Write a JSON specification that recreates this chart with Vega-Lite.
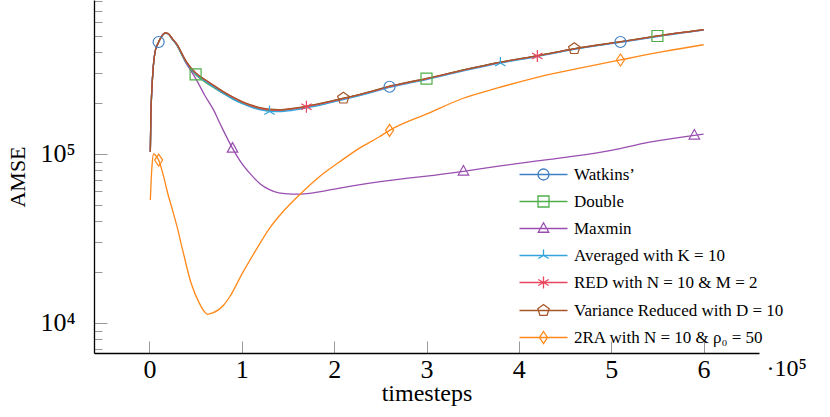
{
  "$schema": "https://vega.github.io/schema/vega-lite/v6.json",
  "width": 665,
  "height": 353,
  "autosize": "none",
  "padding": {"left": 94, "top": 0, "right": 71, "bottom": 64},
  "background": "white",
  "config": {"view": {"stroke": null}, "font": "Liberation Serif"},
  "params": [
    {"name": "lnames", "value": ["Watkins’", "Double", "Maxmin", "Averaged with K = 10", "RED with N = 10 & M = 2", "Variance Reduced with D = 10", "2RA with N = 10 & ρ₀ = 50"]},
    {"name": "lsh", "value": [
      "M-4.8,0H4.8M1.1,0A1.1,1.1 0 1,1 -1.1,0A1.1,1.1 0 1,1 1.1,0Z",
      "M-4.8,0H4.8M-1.1,-1.1H1.1V1.1H-1.1Z",
      "M-4.8,0H4.8M0,-1.15L1.05,0.75H-1.05Z",
      "M-4.8,0H4.8M0,0V-1.2M0,0L1.04,0.6M0,0L-1.04,0.6",
      "M-4.8,0H4.8M0,-1.2V1.2M-1.04,-0.6L1.04,0.6M-1.04,0.6L1.04,-0.6",
      "M-4.8,0H4.8M0,-1.2L1.141,-0.371L0.705,0.971L-0.705,0.971L-1.141,-0.371Z",
      "M-4.8,0H4.8M0,-1.2L0.8,0L0,1.2L-0.8,0Z"
    ]}
  ],
  "datasets": {
    "lines": [
      {"series": "Watkins’", "t": 1000, "amse": 103000},
      {"series": "Watkins’", "t": 1500, "amse": 160000},
      {"series": "Watkins’", "t": 2000, "amse": 200000},
      {"series": "Watkins’", "t": 3000, "amse": 262000},
      {"series": "Watkins’", "t": 4000, "amse": 320000},
      {"series": "Watkins’", "t": 6000, "amse": 400000},
      {"series": "Watkins’", "t": 8000, "amse": 435000},
      {"series": "Watkins’", "t": 10000, "amse": 460000},
      {"series": "Watkins’", "t": 13000, "amse": 495000},
      {"series": "Watkins’", "t": 17000, "amse": 519000},
      {"series": "Watkins’", "t": 20000, "amse": 516000},
      {"series": "Watkins’", "t": 25000, "amse": 477000},
      {"series": "Watkins’", "t": 30000, "amse": 441000},
      {"series": "Watkins’", "t": 35000, "amse": 391000},
      {"series": "Watkins’", "t": 40000, "amse": 348000},
      {"series": "Watkins’", "t": 50000, "amse": 299000},
      {"series": "Watkins’", "t": 60000, "amse": 272000},
      {"series": "Watkins’", "t": 70000, "amse": 250000},
      {"series": "Watkins’", "t": 80000, "amse": 230000},
      {"series": "Watkins’", "t": 90000, "amse": 214000},
      {"series": "Watkins’", "t": 100000, "amse": 201000},
      {"series": "Watkins’", "t": 110000, "amse": 192000},
      {"series": "Watkins’", "t": 120000, "amse": 185000},
      {"series": "Watkins’", "t": 130000, "amse": 181000},
      {"series": "Watkins’", "t": 140000, "amse": 180500},
      {"series": "Watkins’", "t": 150000, "amse": 182500},
      {"series": "Watkins’", "t": 170000, "amse": 190000},
      {"series": "Watkins’", "t": 190000, "amse": 200000},
      {"series": "Watkins’", "t": 210000, "amse": 212000},
      {"series": "Watkins’", "t": 240000, "amse": 233000},
      {"series": "Watkins’", "t": 260000, "amse": 250000},
      {"series": "Watkins’", "t": 280000, "amse": 264000},
      {"series": "Watkins’", "t": 300000, "amse": 278000},
      {"series": "Watkins’", "t": 340000, "amse": 313000},
      {"series": "Watkins’", "t": 380000, "amse": 348000},
      {"series": "Watkins’", "t": 420000, "amse": 380000},
      {"series": "Watkins’", "t": 460000, "amse": 418000},
      {"series": "Watkins’", "t": 510000, "amse": 460000},
      {"series": "Watkins’", "t": 550000, "amse": 498000},
      {"series": "Watkins’", "t": 600000, "amse": 543000},

      {"series": "Double", "t": 1000, "amse": 103000},
      {"series": "Double", "t": 1500, "amse": 160000},
      {"series": "Double", "t": 2000, "amse": 200000},
      {"series": "Double", "t": 3000, "amse": 262000},
      {"series": "Double", "t": 4000, "amse": 320000},
      {"series": "Double", "t": 6000, "amse": 400000},
      {"series": "Double", "t": 8000, "amse": 435000},
      {"series": "Double", "t": 10000, "amse": 460000},
      {"series": "Double", "t": 13000, "amse": 495000},
      {"series": "Double", "t": 17000, "amse": 519000},
      {"series": "Double", "t": 20000, "amse": 515000},
      {"series": "Double", "t": 25000, "amse": 474000},
      {"series": "Double", "t": 30000, "amse": 436000},
      {"series": "Double", "t": 35000, "amse": 386000},
      {"series": "Double", "t": 40000, "amse": 343000},
      {"series": "Double", "t": 50000, "amse": 294000},
      {"series": "Double", "t": 60000, "amse": 267000},
      {"series": "Double", "t": 70000, "amse": 246000},
      {"series": "Double", "t": 80000, "amse": 228000},
      {"series": "Double", "t": 90000, "amse": 212000},
      {"series": "Double", "t": 100000, "amse": 200000},
      {"series": "Double", "t": 110000, "amse": 191000},
      {"series": "Double", "t": 120000, "amse": 184500},
      {"series": "Double", "t": 130000, "amse": 181000},
      {"series": "Double", "t": 140000, "amse": 181000},
      {"series": "Double", "t": 150000, "amse": 183500},
      {"series": "Double", "t": 170000, "amse": 190500},
      {"series": "Double", "t": 190000, "amse": 201000},
      {"series": "Double", "t": 210000, "amse": 213000},
      {"series": "Double", "t": 240000, "amse": 234000},
      {"series": "Double", "t": 260000, "amse": 251000},
      {"series": "Double", "t": 280000, "amse": 265000},
      {"series": "Double", "t": 300000, "amse": 279000},
      {"series": "Double", "t": 340000, "amse": 314000},
      {"series": "Double", "t": 380000, "amse": 349000},
      {"series": "Double", "t": 420000, "amse": 381000},
      {"series": "Double", "t": 460000, "amse": 419000},
      {"series": "Double", "t": 510000, "amse": 461000},
      {"series": "Double", "t": 550000, "amse": 499000},
      {"series": "Double", "t": 600000, "amse": 544000},

      {"series": "Maxmin", "t": 1000, "amse": 103000},
      {"series": "Maxmin", "t": 1500, "amse": 160000},
      {"series": "Maxmin", "t": 2000, "amse": 200000},
      {"series": "Maxmin", "t": 3000, "amse": 262000},
      {"series": "Maxmin", "t": 4000, "amse": 320000},
      {"series": "Maxmin", "t": 6000, "amse": 400000},
      {"series": "Maxmin", "t": 8000, "amse": 435000},
      {"series": "Maxmin", "t": 10000, "amse": 460000},
      {"series": "Maxmin", "t": 13000, "amse": 495000},
      {"series": "Maxmin", "t": 17000, "amse": 519000},
      {"series": "Maxmin", "t": 20000, "amse": 516000},
      {"series": "Maxmin", "t": 25000, "amse": 477000},
      {"series": "Maxmin", "t": 30000, "amse": 440000},
      {"series": "Maxmin", "t": 35000, "amse": 390000},
      {"series": "Maxmin", "t": 40000, "amse": 343000},
      {"series": "Maxmin", "t": 45000, "amse": 310000},
      {"series": "Maxmin", "t": 50000, "amse": 280000},
      {"series": "Maxmin", "t": 60000, "amse": 222000},
      {"series": "Maxmin", "t": 70000, "amse": 180000},
      {"series": "Maxmin", "t": 76000, "amse": 153000},
      {"series": "Maxmin", "t": 80000, "amse": 138000},
      {"series": "Maxmin", "t": 90000, "amse": 108000},
      {"series": "Maxmin", "t": 100000, "amse": 88000},
      {"series": "Maxmin", "t": 110000, "amse": 75500},
      {"series": "Maxmin", "t": 120000, "amse": 66500},
      {"series": "Maxmin", "t": 130000, "amse": 61500},
      {"series": "Maxmin", "t": 140000, "amse": 58800},
      {"series": "Maxmin", "t": 150000, "amse": 58000},
      {"series": "Maxmin", "t": 160000, "amse": 57800},
      {"series": "Maxmin", "t": 170000, "amse": 58200},
      {"series": "Maxmin", "t": 180000, "amse": 59200},
      {"series": "Maxmin", "t": 200000, "amse": 62000},
      {"series": "Maxmin", "t": 220000, "amse": 64800},
      {"series": "Maxmin", "t": 250000, "amse": 68600},
      {"series": "Maxmin", "t": 280000, "amse": 72000},
      {"series": "Maxmin", "t": 300000, "amse": 74000},
      {"series": "Maxmin", "t": 340000, "amse": 79000},
      {"series": "Maxmin", "t": 380000, "amse": 85000},
      {"series": "Maxmin", "t": 420000, "amse": 91000},
      {"series": "Maxmin", "t": 460000, "amse": 97000},
      {"series": "Maxmin", "t": 500000, "amse": 105000},
      {"series": "Maxmin", "t": 540000, "amse": 117000},
      {"series": "Maxmin", "t": 590000, "amse": 129000},
      {"series": "Maxmin", "t": 600000, "amse": 131000},

      {"series": "Averaged with K = 10", "t": 1000, "amse": 103000},
      {"series": "Averaged with K = 10", "t": 1500, "amse": 160000},
      {"series": "Averaged with K = 10", "t": 2000, "amse": 200000},
      {"series": "Averaged with K = 10", "t": 3000, "amse": 262000},
      {"series": "Averaged with K = 10", "t": 4000, "amse": 320000},
      {"series": "Averaged with K = 10", "t": 6000, "amse": 400000},
      {"series": "Averaged with K = 10", "t": 8000, "amse": 435000},
      {"series": "Averaged with K = 10", "t": 10000, "amse": 460000},
      {"series": "Averaged with K = 10", "t": 13000, "amse": 495000},
      {"series": "Averaged with K = 10", "t": 17000, "amse": 518000},
      {"series": "Averaged with K = 10", "t": 20000, "amse": 515000},
      {"series": "Averaged with K = 10", "t": 25000, "amse": 476000},
      {"series": "Averaged with K = 10", "t": 30000, "amse": 440000},
      {"series": "Averaged with K = 10", "t": 35000, "amse": 390000},
      {"series": "Averaged with K = 10", "t": 40000, "amse": 347000},
      {"series": "Averaged with K = 10", "t": 50000, "amse": 298000},
      {"series": "Averaged with K = 10", "t": 60000, "amse": 270000},
      {"series": "Averaged with K = 10", "t": 70000, "amse": 248000},
      {"series": "Averaged with K = 10", "t": 80000, "amse": 228000},
      {"series": "Averaged with K = 10", "t": 90000, "amse": 212000},
      {"series": "Averaged with K = 10", "t": 100000, "amse": 199000},
      {"series": "Averaged with K = 10", "t": 110000, "amse": 189500},
      {"series": "Averaged with K = 10", "t": 120000, "amse": 182500},
      {"series": "Averaged with K = 10", "t": 130000, "amse": 178500},
      {"series": "Averaged with K = 10", "t": 140000, "amse": 178000},
      {"series": "Averaged with K = 10", "t": 150000, "amse": 180000},
      {"series": "Averaged with K = 10", "t": 170000, "amse": 187500},
      {"series": "Averaged with K = 10", "t": 190000, "amse": 197500},
      {"series": "Averaged with K = 10", "t": 210000, "amse": 209500},
      {"series": "Averaged with K = 10", "t": 240000, "amse": 230500},
      {"series": "Averaged with K = 10", "t": 260000, "amse": 247500},
      {"series": "Averaged with K = 10", "t": 280000, "amse": 261500},
      {"series": "Averaged with K = 10", "t": 300000, "amse": 275500},
      {"series": "Averaged with K = 10", "t": 340000, "amse": 310500},
      {"series": "Averaged with K = 10", "t": 380000, "amse": 345500},
      {"series": "Averaged with K = 10", "t": 420000, "amse": 377500},
      {"series": "Averaged with K = 10", "t": 460000, "amse": 415500},
      {"series": "Averaged with K = 10", "t": 510000, "amse": 457500},
      {"series": "Averaged with K = 10", "t": 550000, "amse": 495500},
      {"series": "Averaged with K = 10", "t": 600000, "amse": 540500},

      {"series": "RED with N = 10 & M = 2", "t": 1000, "amse": 103000},
      {"series": "RED with N = 10 & M = 2", "t": 1500, "amse": 160000},
      {"series": "RED with N = 10 & M = 2", "t": 2000, "amse": 200000},
      {"series": "RED with N = 10 & M = 2", "t": 3000, "amse": 262000},
      {"series": "RED with N = 10 & M = 2", "t": 4000, "amse": 320000},
      {"series": "RED with N = 10 & M = 2", "t": 6000, "amse": 400000},
      {"series": "RED with N = 10 & M = 2", "t": 8000, "amse": 435000},
      {"series": "RED with N = 10 & M = 2", "t": 10000, "amse": 460000},
      {"series": "RED with N = 10 & M = 2", "t": 13000, "amse": 495000},
      {"series": "RED with N = 10 & M = 2", "t": 17000, "amse": 520000},
      {"series": "RED with N = 10 & M = 2", "t": 20000, "amse": 517000},
      {"series": "RED with N = 10 & M = 2", "t": 25000, "amse": 479000},
      {"series": "RED with N = 10 & M = 2", "t": 30000, "amse": 444000},
      {"series": "RED with N = 10 & M = 2", "t": 35000, "amse": 394000},
      {"series": "RED with N = 10 & M = 2", "t": 40000, "amse": 351000},
      {"series": "RED with N = 10 & M = 2", "t": 50000, "amse": 302000},
      {"series": "RED with N = 10 & M = 2", "t": 60000, "amse": 275000},
      {"series": "RED with N = 10 & M = 2", "t": 70000, "amse": 253000},
      {"series": "RED with N = 10 & M = 2", "t": 80000, "amse": 233000},
      {"series": "RED with N = 10 & M = 2", "t": 90000, "amse": 217000},
      {"series": "RED with N = 10 & M = 2", "t": 100000, "amse": 203500},
      {"series": "RED with N = 10 & M = 2", "t": 110000, "amse": 193500},
      {"series": "RED with N = 10 & M = 2", "t": 120000, "amse": 186500},
      {"series": "RED with N = 10 & M = 2", "t": 130000, "amse": 182500},
      {"series": "RED with N = 10 & M = 2", "t": 140000, "amse": 181500},
      {"series": "RED with N = 10 & M = 2", "t": 150000, "amse": 183500},
      {"series": "RED with N = 10 & M = 2", "t": 170000, "amse": 190500},
      {"series": "RED with N = 10 & M = 2", "t": 190000, "amse": 200500},
      {"series": "RED with N = 10 & M = 2", "t": 210000, "amse": 212500},
      {"series": "RED with N = 10 & M = 2", "t": 240000, "amse": 233500},
      {"series": "RED with N = 10 & M = 2", "t": 260000, "amse": 250500},
      {"series": "RED with N = 10 & M = 2", "t": 280000, "amse": 264500},
      {"series": "RED with N = 10 & M = 2", "t": 300000, "amse": 278500},
      {"series": "RED with N = 10 & M = 2", "t": 340000, "amse": 313500},
      {"series": "RED with N = 10 & M = 2", "t": 380000, "amse": 348500},
      {"series": "RED with N = 10 & M = 2", "t": 420000, "amse": 380500},
      {"series": "RED with N = 10 & M = 2", "t": 460000, "amse": 418500},
      {"series": "RED with N = 10 & M = 2", "t": 510000, "amse": 460500},
      {"series": "RED with N = 10 & M = 2", "t": 550000, "amse": 498500},
      {"series": "RED with N = 10 & M = 2", "t": 600000, "amse": 543500},

      {"series": "Variance Reduced with D = 10", "t": 1000, "amse": 103000},
      {"series": "Variance Reduced with D = 10", "t": 1500, "amse": 160000},
      {"series": "Variance Reduced with D = 10", "t": 2000, "amse": 200000},
      {"series": "Variance Reduced with D = 10", "t": 3000, "amse": 262000},
      {"series": "Variance Reduced with D = 10", "t": 4000, "amse": 320000},
      {"series": "Variance Reduced with D = 10", "t": 6000, "amse": 400000},
      {"series": "Variance Reduced with D = 10", "t": 8000, "amse": 435000},
      {"series": "Variance Reduced with D = 10", "t": 10000, "amse": 460000},
      {"series": "Variance Reduced with D = 10", "t": 13000, "amse": 495000},
      {"series": "Variance Reduced with D = 10", "t": 17000, "amse": 520000},
      {"series": "Variance Reduced with D = 10", "t": 20000, "amse": 518000},
      {"series": "Variance Reduced with D = 10", "t": 25000, "amse": 480000},
      {"series": "Variance Reduced with D = 10", "t": 30000, "amse": 445000},
      {"series": "Variance Reduced with D = 10", "t": 35000, "amse": 395000},
      {"series": "Variance Reduced with D = 10", "t": 40000, "amse": 352000},
      {"series": "Variance Reduced with D = 10", "t": 50000, "amse": 303000},
      {"series": "Variance Reduced with D = 10", "t": 60000, "amse": 276000},
      {"series": "Variance Reduced with D = 10", "t": 70000, "amse": 254000},
      {"series": "Variance Reduced with D = 10", "t": 80000, "amse": 234000},
      {"series": "Variance Reduced with D = 10", "t": 90000, "amse": 218000},
      {"series": "Variance Reduced with D = 10", "t": 100000, "amse": 205000},
      {"series": "Variance Reduced with D = 10", "t": 110000, "amse": 195000},
      {"series": "Variance Reduced with D = 10", "t": 120000, "amse": 188000},
      {"series": "Variance Reduced with D = 10", "t": 130000, "amse": 184000},
      {"series": "Variance Reduced with D = 10", "t": 140000, "amse": 183000},
      {"series": "Variance Reduced with D = 10", "t": 150000, "amse": 185000},
      {"series": "Variance Reduced with D = 10", "t": 170000, "amse": 192000},
      {"series": "Variance Reduced with D = 10", "t": 190000, "amse": 202000},
      {"series": "Variance Reduced with D = 10", "t": 210000, "amse": 214000},
      {"series": "Variance Reduced with D = 10", "t": 240000, "amse": 235000},
      {"series": "Variance Reduced with D = 10", "t": 260000, "amse": 252000},
      {"series": "Variance Reduced with D = 10", "t": 280000, "amse": 266000},
      {"series": "Variance Reduced with D = 10", "t": 300000, "amse": 280000},
      {"series": "Variance Reduced with D = 10", "t": 340000, "amse": 315000},
      {"series": "Variance Reduced with D = 10", "t": 380000, "amse": 350000},
      {"series": "Variance Reduced with D = 10", "t": 420000, "amse": 382000},
      {"series": "Variance Reduced with D = 10", "t": 460000, "amse": 420000},
      {"series": "Variance Reduced with D = 10", "t": 510000, "amse": 462000},
      {"series": "Variance Reduced with D = 10", "t": 550000, "amse": 500000},
      {"series": "Variance Reduced with D = 10", "t": 600000, "amse": 545000},

      {"series": "2RA with N = 10 & ρ₀ = 50", "t": 1000, "amse": 53400},
      {"series": "2RA with N = 10 & ρ₀ = 50", "t": 2000, "amse": 72000},
      {"series": "2RA with N = 10 & ρ₀ = 50", "t": 3000, "amse": 88000},
      {"series": "2RA with N = 10 & ρ₀ = 50", "t": 4500, "amse": 100000},
      {"series": "2RA with N = 10 & ρ₀ = 50", "t": 6000, "amse": 99000},
      {"series": "2RA with N = 10 & ρ₀ = 50", "t": 8000, "amse": 96000},
      {"series": "2RA with N = 10 & ρ₀ = 50", "t": 10000, "amse": 92000},
      {"series": "2RA with N = 10 & ρ₀ = 50", "t": 15000, "amse": 75000},
      {"series": "2RA with N = 10 & ρ₀ = 50", "t": 20000, "amse": 58000},
      {"series": "2RA with N = 10 & ρ₀ = 50", "t": 25000, "amse": 46600},
      {"series": "2RA with N = 10 & ρ₀ = 50", "t": 30000, "amse": 37000},
      {"series": "2RA with N = 10 & ρ₀ = 50", "t": 36000, "amse": 27000},
      {"series": "2RA with N = 10 & ρ₀ = 50", "t": 45000, "amse": 17300},
      {"series": "2RA with N = 10 & ρ₀ = 50", "t": 54000, "amse": 13100},
      {"series": "2RA with N = 10 & ρ₀ = 50", "t": 60000, "amse": 11600},
      {"series": "2RA with N = 10 & ρ₀ = 50", "t": 63000, "amse": 11260},
      {"series": "2RA with N = 10 & ρ₀ = 50", "t": 68000, "amse": 11450},
      {"series": "2RA with N = 10 & ρ₀ = 50", "t": 75000, "amse": 12000},
      {"series": "2RA with N = 10 & ρ₀ = 50", "t": 80000, "amse": 12700},
      {"series": "2RA with N = 10 & ρ₀ = 50", "t": 87000, "amse": 14300},
      {"series": "2RA with N = 10 & ρ₀ = 50", "t": 100000, "amse": 19400},
      {"series": "2RA with N = 10 & ρ₀ = 50", "t": 115000, "amse": 26800},
      {"series": "2RA with N = 10 & ρ₀ = 50", "t": 130000, "amse": 36300},
      {"series": "2RA with N = 10 & ρ₀ = 50", "t": 145000, "amse": 45800},
      {"series": "2RA with N = 10 & ρ₀ = 50", "t": 162000, "amse": 57000},
      {"series": "2RA with N = 10 & ρ₀ = 50", "t": 184000, "amse": 73400},
      {"series": "2RA with N = 10 & ρ₀ = 50", "t": 206000, "amse": 90000},
      {"series": "2RA with N = 10 & ρ₀ = 50", "t": 227000, "amse": 108000},
      {"series": "2RA with N = 10 & ρ₀ = 50", "t": 249000, "amse": 126500},
      {"series": "2RA with N = 10 & ρ₀ = 50", "t": 260000, "amse": 138000},
      {"series": "2RA with N = 10 & ρ₀ = 50", "t": 303000, "amse": 175000},
      {"series": "2RA with N = 10 & ρ₀ = 50", "t": 339000, "amse": 213000},
      {"series": "2RA with N = 10 & ρ₀ = 50", "t": 376000, "amse": 245000},
      {"series": "2RA with N = 10 & ρ₀ = 50", "t": 423000, "amse": 287000},
      {"series": "2RA with N = 10 & ρ₀ = 50", "t": 470000, "amse": 325000},
      {"series": "2RA with N = 10 & ρ₀ = 50", "t": 510000, "amse": 360000},
      {"series": "2RA with N = 10 & ρ₀ = 50", "t": 556000, "amse": 403000},
      {"series": "2RA with N = 10 & ρ₀ = 50", "t": 600000, "amse": 443000}
    ],
    "markers": [
      {"series": "Watkins’", "t": 10000, "amse": 460000},
      {"series": "Watkins’", "t": 260000, "amse": 250000},
      {"series": "Watkins’", "t": 510000, "amse": 460000},
      {"series": "Double", "t": 50000, "amse": 296000},
      {"series": "Double", "t": 300000, "amse": 279000},
      {"series": "Double", "t": 550000, "amse": 499000},
      {"series": "Maxmin", "t": 90000, "amse": 108000},
      {"series": "Maxmin", "t": 340000, "amse": 79000},
      {"series": "Maxmin", "t": 590000, "amse": 129000},
      {"series": "Averaged with K = 10", "t": 130000, "amse": 178500},
      {"series": "Averaged with K = 10", "t": 380000, "amse": 345500},
      {"series": "RED with N = 10 & M = 2", "t": 170000, "amse": 190500},
      {"series": "RED with N = 10 & M = 2", "t": 420000, "amse": 380500},
      {"series": "Variance Reduced with D = 10", "t": 210000, "amse": 214000},
      {"series": "Variance Reduced with D = 10", "t": 460000, "amse": 420000},
      {"series": "2RA with N = 10 & ρ₀ = 50", "t": 10000, "amse": 92000},
      {"series": "2RA with N = 10 & ρ₀ = 50", "t": 260000, "amse": 138000},
      {"series": "2RA with N = 10 & ρ₀ = 50", "t": 510000, "amse": 360000}
    ]
  },
  "layer": [
    {
      "data": {"name": "lines"},
      "mark": {"type": "line", "interpolate": "monotone", "strokeWidth": 1.3, "clip": true},
      "encoding": {
        "x": {
          "field": "t", "type": "quantitative",
          "scale": {"domain": [-60000, 660000], "nice": false, "zero": false},
          "axis": {
            "values": [0, 100000, 200000, 300000, 400000, 500000, 600000, 660000],
            "labelExpr": "datum.value > 650000 ? '·10⁵' : format(datum.value / 100000, 'd')",
            "grid": false,
            "domainColor": "black", "domainWidth": 1.3,
            "tickSize": -12, "tickColor": "#999999", "tickWidth": 1,
            "tickOpacity": {"condition": {"test": "datum.value > 650000", "value": 0}, "value": 1},
            "labelFont": "Liberation Serif", "labelColor": "black",
            "labelFontSize": {"condition": {"test": "datum.value > 650000", "value": 24}, "value": 26},
            "labelAlign": {"condition": {"test": "datum.value > 650000", "value": "left"}, "value": "center"},
            "labelOffset": {"condition": {"test": "datum.value > 650000", "value": 7}, "value": 0},
            "labelPadding": 15,
            "labelFlush": false, "labelOverlap": false,
            "title": "timesteps", "titleFont": "Liberation Serif", "titleFontSize": 24,
            "titleFontWeight": "normal", "titleColor": "black", "titlePadding": -1
          }
        },
        "y": {
          "field": "amse", "type": "quantitative",
          "scale": {"type": "log", "domain": [6644, 815000], "nice": false},
          "axis": {
            "values": [7000, 8000, 9000, 10000, 20000, 30000, 40000, 50000, 60000, 70000, 80000, 90000, 100000, 200000, 300000, 400000, 500000, 600000, 700000, 800000],
            "labelExpr": "datum.value == 10000 ? '10⁴' : datum.value == 100000 ? '10⁵' : ''",
            "grid": false,
            "domainColor": "black", "domainWidth": 1.3,
            "tickSize": {"condition": {"test": "datum.value == 10000 || datum.value == 100000", "value": -13}, "value": -8},
            "tickColor": "#999999", "tickWidth": 1,
            "labelFont": "Liberation Serif", "labelColor": "black", "labelFontSize": 26,
            "labelPadding": 32, "labelOverlap": false, "labelBaseline": "middle",
            "title": "AMSE", "titleFont": "Liberation Serif", "titleFontSize": 22,
            "titleFontWeight": "normal", "titleColor": "black", "titlePadding": 10
          }
        },
        "color": {
          "field": "series", "type": "nominal",
          "scale": {
            "domain": ["Watkins’", "Double", "Maxmin", "Averaged with K = 10", "RED with N = 10 & M = 2", "Variance Reduced with D = 10", "2RA with N = 10 & ρ₀ = 50"],
            "range": ["#3f7fc4", "#4fae4a", "#9a4fb0", "#34a4dc", "#e8465e", "#a65628", "#ff8818"]
          },
          "legend": {
            "orient": "none", "legendX": 441, "legendY": 166, "title": null, "padding": 0,
            "labelFont": "Liberation Serif", "labelFontSize": 17, "labelColor": "black",
            "labelOffset": 22, "rowPadding": 9, "labelLimit": 400,
            "symbolSize": 100, "symbolStrokeWidth": 1.3,
            "encode": {"symbols": {"update": {"shape": {"signal": "lsh[indexof(lnames, datum.value)]"}, "fill": {"value": "transparent"}}}}
          }
        }
      }
    },
    {
      "data": {"name": "markers"},
      "mark": {"type": "point", "filled": false, "size": 100, "strokeWidth": 1.2, "opacity": 1},
      "encoding": {
        "x": {"field": "t", "type": "quantitative"},
        "y": {"field": "amse", "type": "quantitative"},
        "color": {"field": "series", "type": "nominal", "legend": null},
        "shape": {
          "field": "series", "type": "nominal",
          "scale": {
            "range": [
              "M0,-1.2L0.8,0L0,1.2L-0.8,0Z",
              "M0,0V-1.2M0,0L1.04,0.6M0,0L-1.04,0.6",
              "M-1.1,-1.1H1.1V1.1H-1.1Z",
              "M0,-1.15L1.05,0.75H-1.05Z",
              "M0,-1.2V1.2M-1.04,-0.6L1.04,0.6M-1.04,0.6L1.04,-0.6",
              "M0,-1.2L1.141,-0.371L0.705,0.971L-0.705,0.971L-1.141,-0.371Z",
              "M1.1,0A1.1,1.1 0 1,1 -1.1,0A1.1,1.1 0 1,1 1.1,0Z"
            ]
          },
          "legend": null
        }
      }
    }
  ]
}
